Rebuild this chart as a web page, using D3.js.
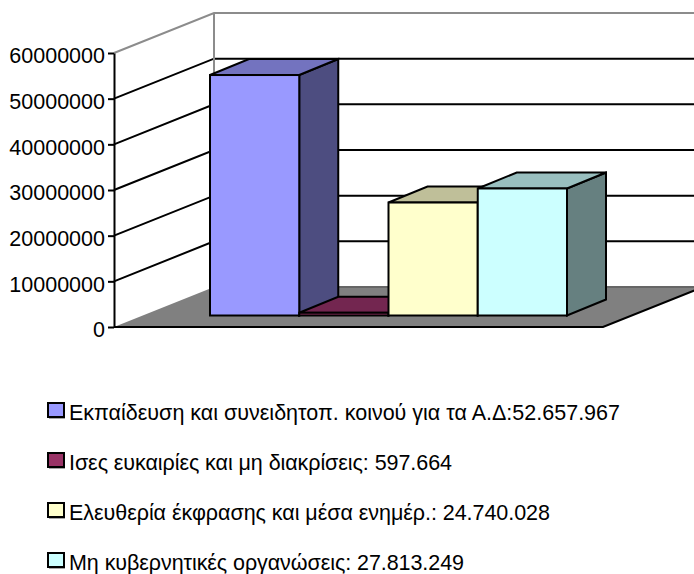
<!DOCTYPE html>
<html>
<head>
<meta charset="utf-8">
<script src="https://cdn.jsdelivr.net/npm/d3@7"></script>
<style>
  body { margin: 0; background: #fff; }
  svg { display: block; }
  text { font-family: "Liberation Sans", Arial, sans-serif; font-size: 21.5px; fill: #000; }
</style>
</head>
<body>
<div id="chart"></div>
<script>
const categories = ["edu", "equal", "speech", "ngo"];
const values = [52657967, 597664, 24740028, 27813249];
const yTicks = [0, 10000000, 20000000, 30000000, 40000000, 50000000, 60000000];
const legendLabels = [
  "Εκπαίδευση και συνειδητοπ. κοινού για τα Α.Δ:52.657.967",
  "Ισες ευκαιρίες και μη διακρίσεις: 597.664",
  "Ελευθερία έκφρασης και μέσα ενημέρ.: 24.740.028",
  "Μη κυβερνητικές οργανώσεις: 27.813.249",
];
const faceColors = ["#9999ff", "#993366", "#ffffcc", "#ccffff"];
const topColors = ["#7373bf", "#732650", "#bfbf99", "#99bfbf"];
const sideColors = ["#4d4d80", "#4d1a33", "#808066", "#668080"];

const width = 694,
  height = 574,
  margin = { left: 114, bottom: 327, top: 53 };

// offsets of the 3d box
const wallDx = 100,
  wallDy = -40,
  barDx = 39,
  barDy = -16,
  barBase = 315.5; // bars stand in the middle of the floor

const svg = d3
  .select("#chart")
  .append("svg")
  .attr("width", width)
  .attr("height", height)
  .attr("viewBox", [0, 0, width, height]);

let y = d3.scaleLinear().domain([0, 60000000]).range([margin.bottom, margin.top]);

let x = d3.scaleBand().domain(categories).range([210, 567]);

const pts = (arr) => arr.map((p) => p.join(",")).join(" ");

// floor
const floorRight = 603;
svg
  .append("polygon")
  .attr("points", pts([
    [margin.left, margin.bottom],
    [floorRight, margin.bottom],
    [floorRight + wallDx, margin.bottom + wallDy],
    [margin.left + wallDx, margin.bottom + wallDy],
  ]))
  .attr("fill", "#808080")
  .attr("stroke", "none");

svg
  .append("path")
  .attr("d", `M${margin.left},${margin.bottom}H${floorRight}L${floorRight + wallDx},${margin.bottom + wallDy}`)
  .attr("fill", "none")
  .attr("stroke", "#000")
  .attr("stroke-width", 2);

svg
  .append("line")
  .attr("x1", margin.left + wallDx)
  .attr("x2", width)
  .attr("y1", margin.bottom + wallDy)
  .attr("y2", margin.bottom + wallDy)
  .attr("stroke", "#666")
  .attr("stroke-width", 2);

// gridlines, going along left wall and then back wall
yTicks.slice(1, -1).forEach((t) => {
  svg
    .append("path")
    .attr("d", `M${margin.left},${y(t)}l${wallDx},${wallDy}H${width}`)
    .attr("fill", "none")
    .attr("stroke", "#000")
    .attr("stroke-width", 2);
});

// the top one is grey like the wall outline
svg
  .append("path")
  .attr("d", `M${margin.left},${y(60000000)}l${wallDx},${wallDy}H${width}M${margin.left + wallDx},${y(60000000) + wallDy}V${margin.bottom + wallDy}`)
  .attr("fill", "none")
  .attr("stroke", "#8c8c8c")
  .attr("stroke-width", 2);

// y axis
const yAxis = svg
  .append("g")
  .attr("transform", `translate(${margin.left},0)`)
  .call(d3.axisLeft(y).tickValues(yTicks).tickFormat(d3.format("d")).tickSizeOuter(0));

yAxis.selectAll("path, line").attr("stroke", "#000").attr("stroke-width", 2);
yAxis.selectAll("text").style("font-size", "21.5px").attr("dy", "0.45em");

// bars, left to right so later ones cover the earlier
const barHeight = (v) => y(0) - y(v);

categories.forEach((c, i) => {
  const x0 = x(c),
    w = x.bandwidth(),
    top = barBase - barHeight(values[i]);
  const g = svg
    .append("g")
    .attr("stroke", "#000")
    .attr("stroke-width", 2)
    .attr("stroke-linejoin", "miter");

  g.append("polygon")
    .attr("points", pts([
      [x0 + w, top],
      [x0 + w + barDx, top + barDy],
      [x0 + w + barDx, barBase + barDy],
      [x0 + w, barBase],
    ]))
    .attr("fill", sideColors[i]);

  g.append("polygon")
    .attr("points", pts([
      [x0, top],
      [x0 + barDx, top + barDy],
      [x0 + w + barDx, top + barDy],
      [x0 + w, top],
    ]))
    .attr("fill", topColors[i]);

  g.append("rect")
    .attr("x", x0)
    .attr("y", top)
    .attr("width", w)
    .attr("height", barBase - top)
    .attr("fill", faceColors[i]);
});

// legend
const legendY = d3.scalePoint().domain(categories).range([403, 553]);
const legendWidths = [551, 383, 481, 395];

categories.forEach((c, i) => {
  const ly = legendY(c);
  svg
    .append("rect")
    .attr("x", 49)
    .attr("y", ly + 1)
    .attr("width", 16)
    .attr("height", 15)
    .attr("fill", "#a6a6a6");
  svg
    .append("rect")
    .attr("x", 48)
    .attr("y", ly)
    .attr("width", 16)
    .attr("height", 14)
    .attr("fill", faceColors[i])
    .attr("stroke", "#000")
    .attr("stroke-width", 2);
  svg
    .append("text")
    .attr("x", 69)
    .attr("y", ly + 17)
    .attr("textLength", legendWidths[i])
    .attr("lengthAdjust", "spacing")
    .text(legendLabels[i]);
});
</script>
</body>
</html>
